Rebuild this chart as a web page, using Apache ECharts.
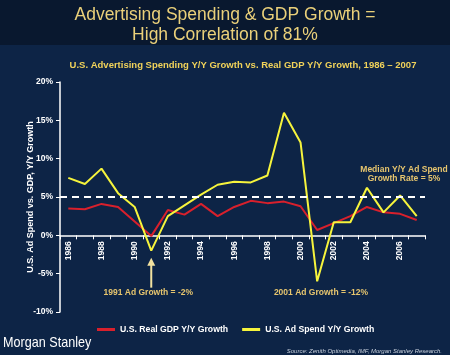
<!DOCTYPE html>
<html><head><meta charset="utf-8">
<script src="https://cdn.jsdelivr.net/npm/echarts@6/dist/echarts.min.js"></script>
<style>html,body{margin:0;padding:0;background:#0d2446;}#c{width:450px;height:355px;}</style>
</head><body><div id="c"></div>
<script>
const years = ['1986','1987','1988','1989','1990','1991','1992','1993','1994','1995','1996','1997','1998','1999','2000','2001','2002','2003','2004','2005','2006','2007'];
const gdpGrowth = [3.5,3.4,4.1,3.7,1.8,-0.1,3.3,2.7,4.1,2.5,3.7,4.5,4.2,4.4,3.8,0.7,1.6,2.5,3.7,3.0,2.8,2.0];
const adGrowth = [7.5,6.7,8.7,5.5,3.7,-2.0,2.5,3.9,5.3,6.6,7.0,6.9,7.8,16.0,12.1,-6.0,1.7,1.7,6.2,3.0,5.2,2.5];
const medianAd = 5;
const yTicks = {min:-10, max:20, interval:5};

const gold = '#e6c56e';
const chart = echarts.init(document.getElementById('c'));
chart.setOption({
  backgroundColor:'#0d2446',
  animation:false,
  title:[
    {text:'Advertising Spending & GDP Growth =\nHigh Correlation of 81%', left:'center', top:0,
     textStyle:{color:'#ead07a', fontSize:17.5, fontWeight:'normal', fontFamily:'Liberation Sans', lineHeight:20}},
    {text:'U.S. Advertising Spending Y/Y Growth vs. Real GDP Y/Y Growth, 1986 – 2007', left:238, textAlign:'center', top:55,
     textStyle:{color:'#f0d25a', fontSize:9.5, fontWeight:'bold', fontFamily:'Liberation Sans'}},
    {text:'Source: Zenith Optimedia, IMF, Morgan Stanley Research.', right:3, top:343,
     textStyle:{color:'#c8d0dc', fontSize:6, fontStyle:'italic', fontWeight:'normal', fontFamily:'Liberation Sans'}}
  ],
  legend:{
    left:92, top:320, itemGap:14, itemWidth:18, itemHeight:3, icon:'rect',
    textStyle:{color:'#ffffff', fontSize:8.7, fontWeight:'bold', fontFamily:'Liberation Sans'},
    data:['U.S. Real GDP Y/Y Growth','U.S. Ad Spend Y/Y Growth']
  },
  grid:{left:60, right:25, top:82, bottom:43},
  xAxis:{
    type:'category', data:years, boundaryGap:true, position:'bottom', offset:0,
    axisLine:{onZero:false, lineStyle:{color:'#ffffff', width:1.5}},
    axisTick:{show:true, interval:0, length:4, lineStyle:{color:'#ffffff'}},
    axisLabel:{interval:1, rotate:90, color:'#ffffff', fontSize:8.5, fontWeight:'bold', fontFamily:'Liberation Sans', margin:6},
    splitLine:{show:false}
  },
  yAxis:{
    type:'value', min:yTicks.min, max:yTicks.max, interval:yTicks.interval,
    name:'U.S. Ad Spend vs. GDP, Y/Y Growth', nameLocation:'middle', nameGap:25, nameRotate:90, nameMoveOverlap:false,
    nameTextStyle:{color:'#ffffff', fontSize:9, fontWeight:'bold', fontFamily:'Liberation Sans'},
    axisLine:{show:true, lineStyle:{color:'#ffffff', width:1.5}},
    axisTick:{show:true, length:4, lineStyle:{color:'#ffffff'}},
    axisLabel:{formatter:'{value}%', color:'#ffffff', fontSize:8.5, fontWeight:'bold', fontFamily:'Liberation Sans', margin:7},
    splitLine:{show:false}
  },
  series:[
    {name:'U.S. Real GDP Y/Y Growth', type:'line', data:gdpGrowth, symbol:'none', z:3,
     lineStyle:{color:'#d8202c', width:2}, itemStyle:{color:'#d8202c'}},
    {name:'U.S. Ad Spend Y/Y Growth', type:'line', data:adGrowth, symbol:'none', z:4,
     lineStyle:{color:'#f6f43c', width:2}, itemStyle:{color:'#f6f43c'},
     markLine:{silent:true, symbol:'none', label:{show:false},
       lineStyle:{color:'#ffffff', type:[7,5], width:1.8},
       data:[{yAxis:medianAd}]}}
  ]
});

// move the category axis (line, ticks, labels) up to the 0% line
const zeroY = chart.convertToPixel({yAxisIndex:0}, 0);
const bottomY = chart.convertToPixel({yAxisIndex:0}, yTicks.min);
chart.setOption({xAxis:{offset:-(bottomY - zeroY)}});

// annotations
const p91 = chart.convertToPixel({xAxisIndex:0, yAxisIndex:0}, ['1991', adGrowth[5]]);
chart.setOption({
  graphic:[
    {type:'rect', shape:{x:0,y:0,width:450,height:45}, style:{fill:'#09182f'}, z:-1, silent:true},
    {type:'group', children:[
      {type:'rect', shape:{x:p91[0]-1, y:p91[1]+12, width:2, height:25}, style:{fill:'#f2e2a0'}},
      {type:'polygon', shape:{points:[[p91[0]-4,p91[1]+15],[p91[0]+4,p91[1]+15],[p91[0],p91[1]+7]]}, style:{fill:'#f2e2a0'}}
    ]},
    {type:'text', x:p91[0]-3, y:293, style:{text:'1991 Ad Growth = -2%', fill:gold, font:'bold 8.5px Liberation Sans', textAlign:'center', textVerticalAlign:'middle'}},
    {type:'text', x:321, y:293, style:{text:'2001 Ad Growth = -12%', fill:gold, font:'bold 8.5px Liberation Sans', textAlign:'center', textVerticalAlign:'middle'}},
    {type:'text', x:404, y:174, style:{text:'Median Y/Y Ad Spend\nGrowth Rate = 5%', fill:gold, font:'bold 8.5px Liberation Sans', textAlign:'center', textVerticalAlign:'middle', lineHeight:9}},
    {type:'text', x:3, y:343, scaleX:0.84, style:{text:'Morgan Stanley', fill:'#ffffff', font:'normal 15px Liberation Sans', textAlign:'left', textVerticalAlign:'middle'}}
  ]
});
</script></body></html>
